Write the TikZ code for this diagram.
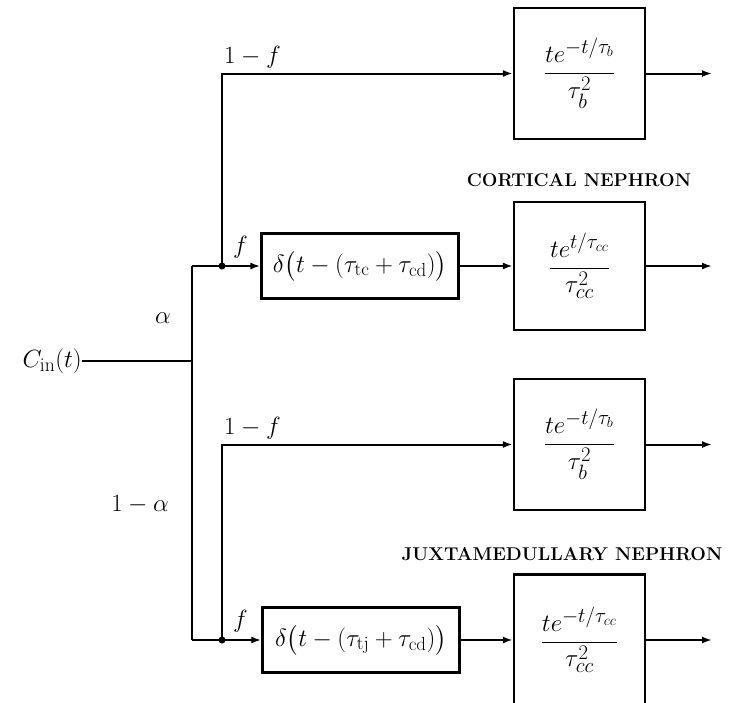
\documentclass[tikz,border=0pt]{standalone}
\usepackage{amsmath}
\usepackage{fontspec}
\usetikzlibrary{arrows.meta}
\tikzset{
  blk/.style={draw, line width=2.2pt, inner sep=0pt, minimum width=131pt, minimum height=131pt, font=\fontsize{29}{34}\selectfont},
  dbox/.style={draw, line width=2.2pt, inner sep=0pt, minimum width=197pt, minimum height=65pt, font=\fontsize{27}{32}\selectfont},
  wire/.style={line width=2pt},
  arr/.style={wire, -{Latex[length=10pt,width=7pt]}},
  lbl/.style={inner sep=0pt, font=\fontsize{28}{33}\selectfont},
  captxt/.style={inner sep=0pt, font=\fontsize{18.5}{22}\selectfont\bfseries\addfontfeatures{LetterSpace=8}},
  jdot/.style={circle, fill, inner sep=0pt, minimum size=7pt}
}
\begin{document}
\begin{tikzpicture}[x=1pt,y=-1pt]
\clip (0,0) rectangle (747,702);
\fill[white] (0,0) rectangle (747,702);
% boxes
\node[blk] (bA) at (579.5,73.5) {$\dfrac{te^{-t/\tau_b}}{\tau_b^2}$};
\node[blk, minimum height=128pt] (bB) at (579.5,266) {$\dfrac{te^{t/\tau_{cc}}}{\tau_{cc}^2}$};
\node[blk] (bC) at (579.5,444.5) {$\dfrac{te^{-t/\tau_b}}{\tau_b^2}$};
\node[blk] (bD) at (579.5,640) {$\dfrac{te^{-t/\tau_{cc}}}{\tau_{cc}^2}$};
\node[dbox] (dA) at (360,266) {$\delta\bigl(t-(\tau_{\mathrm{tc}}+\tau_{\mathrm{cd}})\bigr)$};
\node[dbox] (dB) at (361,640) {$\delta\bigl(t-(\tau_{\mathrm{tj}}+\tau_{\mathrm{cd}})\bigr)$};
% input
\node[lbl, anchor=east] (cin) at (82,361) {$C_{\mathrm{in}}(t)$};
\coordinate (s) at (192,361);
\coordinate (up) at (192,266);
\coordinate (dn) at (192,640);
\node[jdot] (jA) at (222,266) {};
\node[jdot] (jB) at (222,640) {};
\coordinate (tA) at (222,73.5);
\coordinate (tC) at (222,444.5);
% outputs
\coordinate (oA) at (712,73.5);
\coordinate (oB) at (712,266);
\coordinate (oC) at (712,444.5);
\coordinate (oD) at (712,640);
% wires
\draw[wire] (cin.east) -- (s);
\draw[wire] (up) -- (dn);
\draw[arr] (up) -- (dA.west);
\draw[arr] (jA.center) -- (tA) -- (bA.west);
\draw[arr] (dA.east) -- (bB.west);
\draw[arr] (dn) -- (dB.west);
\draw[arr] (jB.center) -- (tC) -- (bC.west);
\draw[arr] (dB.east) -- (bD.west);
\draw[arr] (bA.east) -- (oA);
\draw[arr] (bB.east) -- (oB);
\draw[arr] (bC.east) -- (oC);
\draw[arr] (bD.east) -- (oD);
% labels
\node[lbl, anchor=south west] (l1) at (224,69) {$1-f$};
\node[lbl, anchor=south west] (l2) at (233,259) {$f$};
\node[lbl, anchor=south west] (l3) at (224,440) {$1-f$};
\node[lbl, anchor=south west] (l4) at (233,633) {$f$};
\node[lbl] (la) at (163,318) {$\alpha$};
\node[lbl] (lb) at (140,505) {$1-\alpha$};
\node[captxt] (cn) at (579,180) {CORTICAL NEPHRON};
\node[captxt] (jn) at (562,554) {JUXTAMEDULLARY NEPHRON};
\end{tikzpicture}
\end{document}
